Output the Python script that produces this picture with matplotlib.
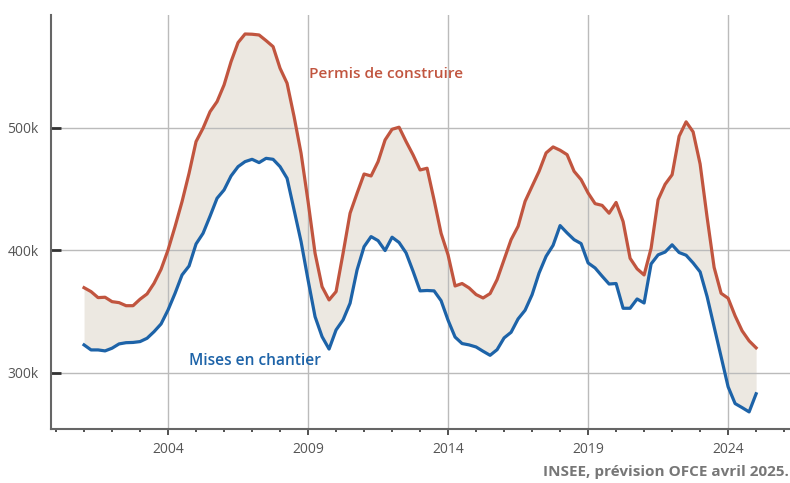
import numpy as np
import matplotlib
matplotlib.use("Agg")
import matplotlib.pyplot as plt

# logements, cumul sur 12 mois (milliers), trimestriel 2001T1 -> 2025T1
debut = 2001
permis = [369.6, 366.4, 361.5, 361.8, 358.2, 357.4, 354.9, 354.9, 360.2, 364.5,
          373.2, 384.6, 400.4, 419.5, 439.9, 463.0, 488.9, 499.8, 513.3, 521.5,
          535.1, 554.1, 569.7, 576.7, 576.5, 575.9, 571.3, 566.4, 548.7, 536.5,
          509.3, 479.3, 439.9, 397.7, 370.4, 359.6, 366.4, 397.7, 430.4, 446.7,
          462.4, 460.8, 472.5, 490.2, 498.9, 500.6, 488.9, 478.0, 465.7, 467.1,
          441.2, 414.0, 396.3, 371.0, 373.0, 369.4, 364.0, 361.2, 364.8, 376.2,
          392.5, 408.8, 419.7, 440.1, 452.4, 464.6, 479.6, 484.5, 481.8, 478.2,
          464.6, 457.8, 446.9, 438.2, 436.8, 430.4, 439.2, 423.6, 393.6, 385.0,
          380.0, 401.8, 441.4, 454.0, 461.8, 493.2, 505.0, 496.8, 470.6, 427.0,
          386.2, 365.0, 361.0, 346.6, 334.4, 326.2, 320.5]
mises = [322.9, 318.8, 318.8, 318.0, 320.2, 323.7, 324.7, 324.9, 325.6, 328.3,
         333.7, 340.0, 351.4, 365.0, 380.0, 387.3, 405.3, 414.0, 428.0, 442.6,
         449.4, 460.8, 468.4, 472.5, 474.4, 471.7, 475.2, 474.4, 468.4, 458.9,
         433.1, 407.2, 375.9, 345.9, 329.6, 319.5, 335.1, 343.3, 356.9, 384.1,
         403.1, 411.3, 408.0, 399.9, 410.8, 406.5, 398.0, 383.0, 367.0, 367.3,
         367.0, 359.0, 343.0, 329.3, 324.0, 322.9, 321.2, 317.7, 314.4, 319.0,
         328.6, 333.2, 344.1, 351.2, 363.9, 381.6, 395.2, 404.2, 420.3, 414.3,
         408.8, 405.6, 389.8, 385.7, 379.0, 372.6, 373.0, 352.8, 352.8, 360.4,
         357.1, 389.0, 396.4, 398.7, 404.6, 398.3, 396.1, 389.8, 382.5, 362.3,
         337.7, 313.2, 288.7, 275.0, 271.7, 268.2, 283.0]
annees_ticks = [2004, 2009, 2014, 2019, 2024]
valeurs_y = [300, 400, 500]

rouge = "#C1553F"
bleu = "#1D63A8"
beige = "#ECE8E1"
gris = "#555555"

plt.rcParams["font.family"] = ["Open Sans", "DejaVu Sans"]

dates = debut + np.arange(len(permis)) / 4

fig = plt.figure(figsize=(7.9, 4.83), dpi=100)
ax = fig.add_axes([51 / 790, (483 - 429.3) / 483, 1 - 51 / 790, (429.3 - 15) / 483])

ax.fill_between(dates, mises, permis, color=beige, lw=0, zorder=1)
ax.plot(dates, permis, color=rouge, lw=2.3, zorder=3, solid_joinstyle="round")
ax.plot(dates, mises, color=bleu, lw=2.3, zorder=3, solid_joinstyle="round")

ax.set_xlim(1999.82, 2026.21)
ax.set_ylim(254, 592.2)

ax.set_xticks(annees_ticks)
ax.set_xticklabels([str(a) for a in annees_ticks])
ax.set_xticks(np.arange(2000, 2027), minor=True)
ax.set_yticks(valeurs_y)
ax.set_yticklabels([f"{v}k" for v in valeurs_y])

ax.set_axisbelow("line")
ax.grid(True, which="major", color="#BBBBBB", lw=1)

for s in ["top", "right"]:
    ax.spines[s].set_visible(False)
for s in ["left", "bottom"]:
    ax.spines[s].set_color("#666666")
    ax.spines[s].set_linewidth(1.5)

ax.tick_params(axis="y", direction="in", length=7, width=2, color="#333333",
               labelsize=10, labelcolor=gris, pad=9)
ax.tick_params(axis="x", which="major", direction="out", length=4, width=1.2,
               color="#333333", labelsize=10, labelcolor=gris, pad=5)
ax.tick_params(axis="x", which="minor", direction="out", length=2, width=1.2,
               color="#333333")

ax.text(2009.05, 544, "Permis de construire", color=rouge, fontsize=11.1,
        fontweight="semibold", va="center", ha="left")
ax.text(2004.75, 310, "Mises en chantier", color=bleu, fontsize=11.2,
        fontweight="semibold", va="center", ha="left")

fig.text(1 - 1 / 790, 1 - 472 / 483, "INSEE, prévision OFCE avril 2025.",
         color="#777777", fontsize=11, fontweight="bold", ha="right", va="center")

fig.savefig("out.png", dpi=100)
